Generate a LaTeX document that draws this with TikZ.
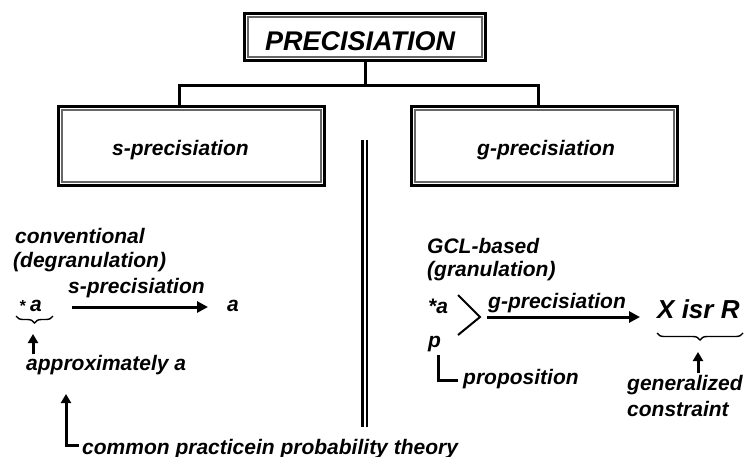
\documentclass[tikz,border=0pt]{standalone}
\usepackage{fontspec}
\setmainfont{Liberation Sans}
\usetikzlibrary{arrows.meta,decorations.pathreplacing}
\begin{document}
\begin{tikzpicture}[x=1pt,y=-1pt,
  txt/.style={font=\fontsize{21}{24}\selectfont\bfseries\itshape, inner sep=0pt, anchor=base west},
  conn/.style={line width=3pt},
  arr/.style={line width=3pt, -{Triangle[length=11pt,width=11pt]}},
  uparr/.style={line width=3pt, {Triangle[length=9pt,width=10pt]}-},
  boxout/.style={draw, line width=3pt, inner sep=0pt},
  boxin/.style={draw=black!60, line width=1.5pt},
  brc/.style={decorate, decoration={brace,mirror,amplitude=7pt}, line width=1.4pt},
]
\clip (0,0) rectangle (749,456);
\fill[white] (0,0) rectangle (749,456);

% boxes
\node[boxout, minimum width=241pt, minimum height=47pt] (top) at (365,37) {};
\draw[boxin] ([shift={(5,5)}]top.north west) rectangle ([shift={(-5,-5)}]top.south east);
\node[txt, font=\fontsize{27}{30}\selectfont\bfseries\itshape] (toptext) at (265,50) {PRECISIATION};

\node[boxout, minimum width=266pt, minimum height=79pt] (sbox) at (191.5,146) {};
\draw[boxin] ([shift={(5,5)}]sbox.north west) rectangle ([shift={(-5,-5)}]sbox.south east);
\node[txt] (stext) at (112,155) {s-precisiation};

\node[boxout, minimum width=266pt, minimum height=79pt] (gbox) at (544.5,146) {};
\draw[boxin] ([shift={(5,5)}]gbox.north west) rectangle ([shift={(-5,-5)}]gbox.south east);
\node[txt] (gtext) at (477,155) {g-precisiation};

% tree connectors
\coordinate (jt) at (365,85);
\coordinate (jl) at (179,85);
\coordinate (jr) at (538,85);
\draw[conn] (top.south) -- (jt);
\draw[conn, line join=miter] (jl |- sbox.north) -- (jl) -- (jr) -- (jr |- gbox.north);

% central double rule
\coordinate (d1a) at (362.5,140); \coordinate (d1b) at (362.5,427);
\coordinate (d2a) at (366.8,140); \coordinate (d2b) at (366.8,427);
\draw[line width=3pt] (d1a) -- (d1b);
\draw[line width=2pt] (d2a) -- (d2b);

% left side
\node[txt] (conv) at (15,243) {conventional};
\node[txt] (degr) at (13,267) {(degranulation)};
\node[txt, font=\fontsize{16}{18}\selectfont\bfseries\itshape] (star) at (19,311) {*};
\node[txt] (astar) at (30,311) {a};
\node[txt] (slab) at (68,293) {s-precisiation};
\node[txt] (atgt) at (227,311) {a};
\coordinate (sa1) at (72,307); \coordinate (sa2) at (208,307);
\draw[arr] (sa1) -- (sa2);
\coordinate (b1) at (16,316); \coordinate (b2) at (53,316);
\draw[brc] (b1) -- (b2);
\coordinate (ua1) at (33,354); \coordinate (ua2) at (33,334);
\draw[line width=3pt, -{Triangle[length=9pt,width=10pt]}] (ua1) -- (ua2);
\node[txt] (approx) at (26,370) {approximately a};

\coordinate (ct) at (66,394); \coordinate (cc) at (66,445); \coordinate (ce) at (79,445);
\draw[uparr, line join=miter] (ct) -- (cc) -- (ce);
\node[txt] (common) at (82,454) {common practicein probability theory};

% right side
\node[txt] (gcl) at (427,253) {GCL-based};
\node[txt] (gran) at (427,276) {(granulation)};
\node[txt] (ra) at (428,313) {*a};
\node[txt] (rp) at (428,347) {p};
\coordinate (v1) at (458,295); \coordinate (v2) at (480,317); \coordinate (v3) at (458,335);
\draw[line width=2pt, line join=miter] (v1) -- (v2) -- (v3);
\node[txt] (glab) at (488,308) {g-precisiation};
\coordinate (ga1) at (487,317); \coordinate (ga2) at (640,317);
\draw[arr] (ga1) -- (ga2);
\node[txt, font=\fontsize{26}{30}\selectfont\bfseries\itshape] (xisr) at (657,318) {X isr R};
\coordinate (xb1) at (657,333); \coordinate (xb2) at (743,333);
\draw[brc] (xb1) -- (xb2);
\coordinate (xa1) at (698,373); \coordinate (xa2) at (698,352);
\draw[line width=3pt, -{Triangle[length=9pt,width=10pt]}] (xa1) -- (xa2);
\node[txt] (gen) at (627,390) {generalized};
\node[txt] (constr) at (627,416) {constraint};
\coordinate (p1) at (438,355); \coordinate (p2) at (438,380); \coordinate (p3) at (458,380);
\draw[conn, line join=miter] (p1) -- (p2) -- (p3);
\node[txt] (prop) at (463,384) {proposition};
\end{tikzpicture}
\end{document}
